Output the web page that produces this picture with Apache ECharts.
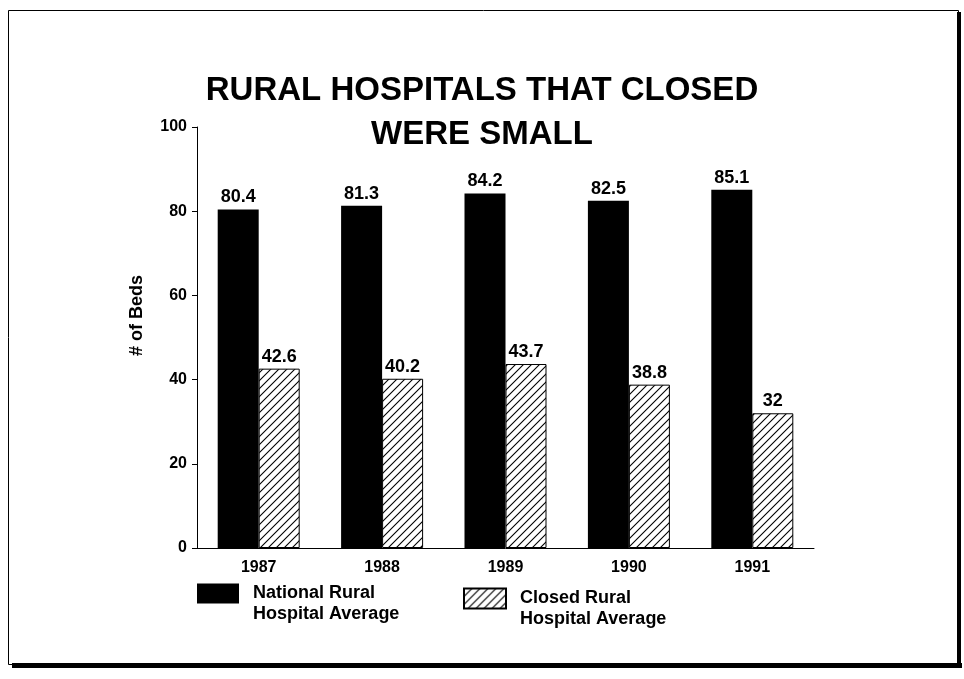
<!DOCTYPE html>
<html>
<head>
<meta charset="utf-8">
<script src="https://cdn.jsdelivr.net/npm/echarts@6/dist/echarts.min.js"></script>
<style>
  html, body { margin: 0; padding: 0; background: #fff; }
  #chart { width: 964px; height: 679px; }
</style>
</head>
<body>
<div id="chart"></div>
<script>
const years = ['1987', '1988', '1989', '1990', '1991'];
const nationalAvg = [80.4, 81.3, 84.2, 82.5, 85.1];
const closedAvg = [42.6, 40.2, 43.7, 38.8, 32];
const yTicks = [0, 20, 40, 60, 80, 100];

const font = '"Liberation Sans", Arial, Helvetica, sans-serif';

// diagonal hatch pattern for the closed hospitals bars
function hatch() {
    const c = document.createElement('canvas');
    c.width = 8;
    c.height = 8;
    const ctx = c.getContext('2d');
    ctx.fillStyle = '#fff';
    ctx.fillRect(0, 0, 8, 8);
    ctx.strokeStyle = '#000';
    ctx.lineWidth = 1.1;
    ctx.beginPath();
    ctx.moveTo(-1, 9); ctx.lineTo(9, -1);
    ctx.moveTo(-5, 5); ctx.lineTo(5, -5);
    ctx.moveTo(3, 13); ctx.lineTo(13, 3);
    ctx.stroke();
    return c;
}
const hatchFill = { image: hatch(), repeat: 'repeat' };

const chart = echarts.init(document.getElementById('chart'));

const legendText = {
    fontFamily: font, fontWeight: 'bold', fontSize: 18, color: '#000',
    lineHeight: 21, padding: [0, 0, 0, 9]
};
// empty first line pushes the text down so the box lines up with the first line
const legendLabel = function (name) {
    return ' \n' + name;
};

chart.setOption({
    animation: false,
    backgroundColor: '#fff',
    title: {
        text: 'RURAL HOSPITALS THAT CLOSED\nWERE SMALL',
        left: 'center',
        top: 64,
        textStyle: { fontFamily: font, fontWeight: 'bold', fontSize: 33, lineHeight: 44, color: '#000' }
    },
    grid: { left: 197, right: 150, top: 127, bottom: 131 },
    legend: [
        {
            left: 197, top: 562, padding: 0,
            icon: 'rect',
            itemWidth: 42, itemHeight: 20,
            data: ['National Rural\nHospital Average'],
            formatter: legendLabel,
            textStyle: legendText
        },
        {
            left: 463, top: 567, padding: 0,
            icon: 'rect',
            itemWidth: 42, itemHeight: 20,
            data: ['Closed Rural\nHospital Average'],
            formatter: legendLabel,
            textStyle: legendText
        }
    ],
    xAxis: {
        type: 'category',
        data: years,
        axisLine: { lineStyle: { color: '#000', width: 1 } },
        axisTick: { alignWithLabel: true, length: 5, lineStyle: { color: '#000' } },
        axisLabel: { fontFamily: font, fontWeight: 'bold', fontSize: 16, color: '#000', margin: 12 }
    },
    yAxis: {
        type: 'value',
        min: yTicks[0],
        max: yTicks[yTicks.length - 1],
        interval: 20,
        name: '# of Beds',
        nameLocation: 'middle',
        nameGap: 51,
        nameRotate: 90,
        nameTextStyle: {
            fontFamily: font, fontWeight: 'bold', fontSize: 18, color: '#000',
            padding: [0, 0, 0, 44]
        },
        splitLine: { show: false },
        axisLine: { show: true, lineStyle: { color: '#000', width: 1 } },
        axisTick: { show: true, length: 5, lineStyle: { color: '#000' } },
        axisLabel: { fontFamily: font, fontWeight: 'bold', fontSize: 16, color: '#000', margin: 10 }
    },
    series: [
        {
            name: 'National Rural\nHospital Average',
            type: 'bar',
            data: nationalAvg,
            barWidth: 41,
            barGap: '0%',
            itemStyle: { color: '#000' },
            label: {
                show: true, position: 'top', distance: 3,
                fontFamily: font, fontWeight: 'bold', fontSize: 18, color: '#000'
            }
        },
        {
            name: 'Closed Rural\nHospital Average',
            type: 'bar',
            data: closedAvg,
            barWidth: 41,
            barGap: '0%',
            itemStyle: { color: hatchFill, borderColor: '#000', borderWidth: 1 },
            label: {
                show: true, position: 'top', distance: 3,
                fontFamily: font, fontWeight: 'bold', fontSize: 18, color: '#000'
            }
        }
    ],
    graphic: [
        {
            type: 'rect',
            shape: { x: 8.5, y: 10.5, width: 950, height: 654 },
            style: { fill: 'none', stroke: '#000', lineWidth: 1 }
        },
        {
            type: 'rect',
            shape: { x: 12, y: 663, width: 950, height: 5 },
            style: { fill: '#000' }
        },
        {
            type: 'rect',
            shape: { x: 957, y: 12, width: 4, height: 656 },
            style: { fill: '#000' }
        }
    ]
});

window.addEventListener('resize', function () {
    chart.resize();
});
</script>
</body>
</html>
